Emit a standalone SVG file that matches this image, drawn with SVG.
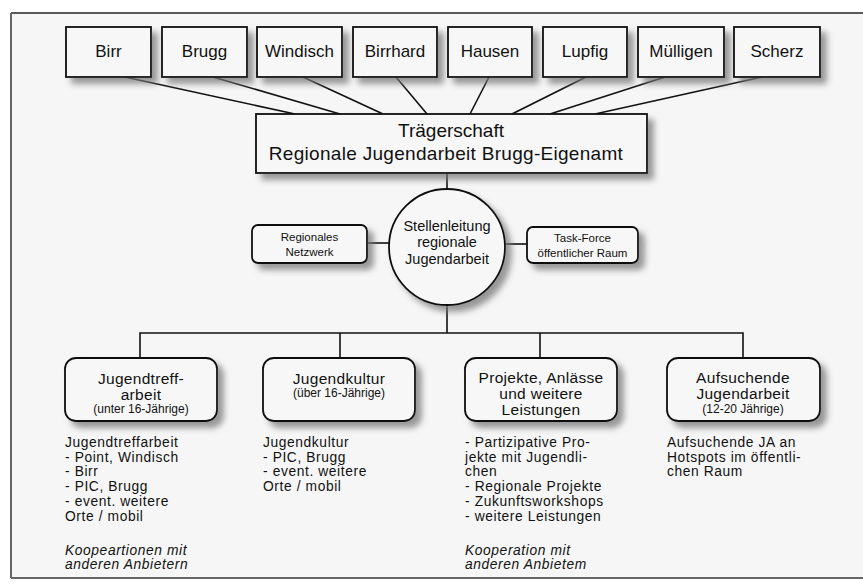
<svg xmlns="http://www.w3.org/2000/svg" width="863" height="588" viewBox="0 0 863 588">
<defs>
<filter id="sh" x="-20%" y="-20%" width="150%" height="160%">
<feGaussianBlur in="SourceAlpha" stdDeviation="3"/>
<feOffset dx="6" dy="6" result="b"/>
<feFlood flood-color="#777" flood-opacity="0.75"/>
<feComposite in2="b" operator="in" result="s"/>
<feMerge><feMergeNode in="s"/><feMergeNode in="SourceGraphic"/></feMerge>
</filter>
<style>
.box{fill:#f7f7f7;stroke:#111;stroke-width:1.8}
.ln{stroke:#111;stroke-width:1.6;fill:none}
text{font-family:"Liberation Sans",Arial,sans-serif;fill:#111}
.t{font-size:17px;text-anchor:middle}
.tr{font-size:19px;text-anchor:middle}
.c{font-size:14.5px;text-anchor:middle}
.s{font-size:11.5px;text-anchor:middle}
.b{font-size:15.5px;text-anchor:middle;letter-spacing:0.3px}
.bs{font-size:12px;text-anchor:middle}
.l{font-size:13.8px;letter-spacing:0.6px}
.i{font-size:13.8px;font-style:italic;letter-spacing:0.6px}
</style>
</defs>
<rect x="0" y="0" width="863" height="588" fill="#fff"/>
<rect x="11" y="13" width="860" height="565" fill="#f6f6f6"/>
<g id="frame" fill="none">
<line x1="11" y1="13" x2="863" y2="13" stroke="#222" stroke-width="1.5"/>
<line x1="11" y1="13" x2="11" y2="578" stroke="#666" stroke-width="2"/>
<line x1="11" y1="578" x2="863" y2="578" stroke="#666" stroke-width="2"/>
</g>
<g id="connectors">
<line class="ln" x1="125" y1="77" x2="295" y2="114"/>
<line class="ln" x1="213" y1="77" x2="340" y2="114"/>
<line class="ln" x1="303" y1="77" x2="383" y2="114"/>
<line class="ln" x1="396" y1="77" x2="427" y2="114"/>
<line class="ln" x1="489" y1="77" x2="470" y2="114"/>
<line class="ln" x1="586" y1="77" x2="512" y2="114"/>
<line class="ln" x1="665" y1="77" x2="550" y2="114"/>
<line class="ln" x1="762" y1="77" x2="595" y2="114"/>
<line class="ln" x1="447" y1="173" x2="447" y2="189"/>
<line class="ln" x1="367" y1="243" x2="389" y2="243"/>
<line class="ln" x1="505" y1="244" x2="527" y2="244"/>
<line class="ln" x1="447" y1="305" x2="447" y2="333"/>
<polyline class="ln" points="140,358 140,333 743,333 743,358"/>
<line class="ln" x1="340" y1="333" x2="340" y2="358"/>
<line class="ln" x1="540" y1="333" x2="540" y2="358"/>
</g>
<g id="birr"><rect class="box" filter="url(#sh)" x="66" y="27" width="85" height="50"/><text class="t" x="108.5" y="57">Birr</text></g>
<g id="brugg"><rect class="box" filter="url(#sh)" x="162" y="27" width="85" height="50"/><text class="t" x="204.5" y="57">Brugg</text></g>
<g id="windisch"><rect class="box" filter="url(#sh)" x="257" y="27" width="85" height="50"/><text class="t" x="299.5" y="57">Windisch</text></g>
<g id="birrhard"><rect class="box" filter="url(#sh)" x="353" y="27" width="84" height="50"/><text class="t" x="395" y="57">Birrhard</text></g>
<g id="hausen"><rect class="box" filter="url(#sh)" x="448" y="27" width="84" height="50"/><text class="t" x="490" y="57">Hausen</text></g>
<g id="lupfig"><rect class="box" filter="url(#sh)" x="543" y="27" width="84" height="50"/><text class="t" x="585" y="57">Lupfig</text></g>
<g id="muelligen"><rect class="box" filter="url(#sh)" x="638" y="27" width="86" height="50"/><text class="t" x="681" y="57">Mülligen</text></g>
<g id="scherz"><rect class="box" filter="url(#sh)" x="734" y="27" width="86" height="50"/><text class="t" x="777" y="57">Scherz</text></g>
<g id="traegerschaft"><rect class="box" filter="url(#sh)" x="256" y="114" width="391" height="59"/>
<text class="tr" x="451" y="137">Trägerschaft</text>
<text class="tr" x="446" y="160" letter-spacing="0.3">Regionale Jugendarbeit Brugg-Eigenamt</text></g>
<g id="stellenleitung"><circle class="box" filter="url(#sh)" cx="447" cy="247" r="58"/>
<text class="c" x="447" y="231">Stellenleitung</text>
<text class="c" x="447" y="247">regionale</text>
<text class="c" x="447" y="264">Jugendarbeit</text></g>
<g id="netzwerk"><rect class="box" filter="url(#sh)" x="252" y="225" width="115" height="38" rx="6"/>
<text class="s" x="309.5" y="241">Regionales</text>
<text class="s" x="309.5" y="256">Netzwerk</text></g>
<g id="taskforce"><rect class="box" filter="url(#sh)" x="527" y="227" width="111" height="36" rx="6"/>
<text class="s" x="582.5" y="242">Task-Force</text>
<text class="s" x="582.5" y="257">öffentlicher Raum</text></g>
<g id="jugendtreff"><rect class="box" filter="url(#sh)" x="65" y="358" width="152" height="63" rx="11"/>
<text class="b" x="141" y="384">Jugendtreff-</text>
<text class="b" x="141" y="400">arbeit</text>
<text class="bs" x="141" y="413">(unter 16-Jährige)</text></g>
<g id="jugendkultur"><rect class="box" filter="url(#sh)" x="263" y="358" width="152" height="63" rx="11"/>
<text class="b" x="339" y="384">Jugendkultur</text>
<text class="bs" x="339" y="397">(über 16-Jährige)</text></g>
<g id="projekte"><rect class="box" filter="url(#sh)" x="465" y="358" width="152" height="63" rx="11"/>
<text class="b" x="541" y="383">Projekte, Anlässe</text>
<text class="b" x="541" y="399">und weitere</text>
<text class="b" x="541" y="415">Leistungen</text></g>
<g id="aufsuchende"><rect class="box" filter="url(#sh)" x="667" y="358" width="153" height="63" rx="11"/>
<text class="b" x="743" y="383">Aufsuchende</text>
<text class="b" x="743" y="399">Jugendarbeit</text>
<text class="bs" x="743" y="413">(12-20 Jährige)</text></g>
<g id="list1">
<text class="l" x="65" y="447">Jugendtreffarbeit</text>
<text class="l" x="65" y="461.7">- Point, Windisch</text>
<text class="l" x="65" y="476.4">- Birr</text>
<text class="l" x="65" y="491.1">- PIC, Brugg</text>
<text class="l" x="65" y="505.8">- event. weitere</text>
<text class="l" x="65" y="520.5">Orte / mobil</text>
<text class="i" x="65" y="554.5">Koopeartionen mit</text>
<text class="i" x="65" y="569">anderen Anbietern</text>
</g>
<g id="list2">
<text class="l" x="263" y="447">Jugendkultur</text>
<text class="l" x="263" y="461.7">- PIC, Brugg</text>
<text class="l" x="263" y="476.4">- event. weitere</text>
<text class="l" x="263" y="491.1">Orte / mobil</text>
</g>
<g id="list3">
<text class="l" x="465" y="447">- Partizipative Pro-</text>
<text class="l" x="465" y="461.7">jekte mit Jugendli-</text>
<text class="l" x="465" y="476.4">chen</text>
<text class="l" x="465" y="491.1">- Regionale Projekte</text>
<text class="l" x="465" y="505.8">- Zukunftsworkshops</text>
<text class="l" x="465" y="520.5">- weitere Leistungen</text>
<text class="i" x="465" y="554.5">Kooperation mit</text>
<text class="i" x="465" y="569">anderen Anbietem</text>
</g>
<g id="list4">
<text class="l" x="667" y="447">Aufsuchende JA an</text>
<text class="l" x="667" y="461.7">Hotspots im öffentli-</text>
<text class="l" x="667" y="476.4">chen Raum</text>
</g>
</svg>
